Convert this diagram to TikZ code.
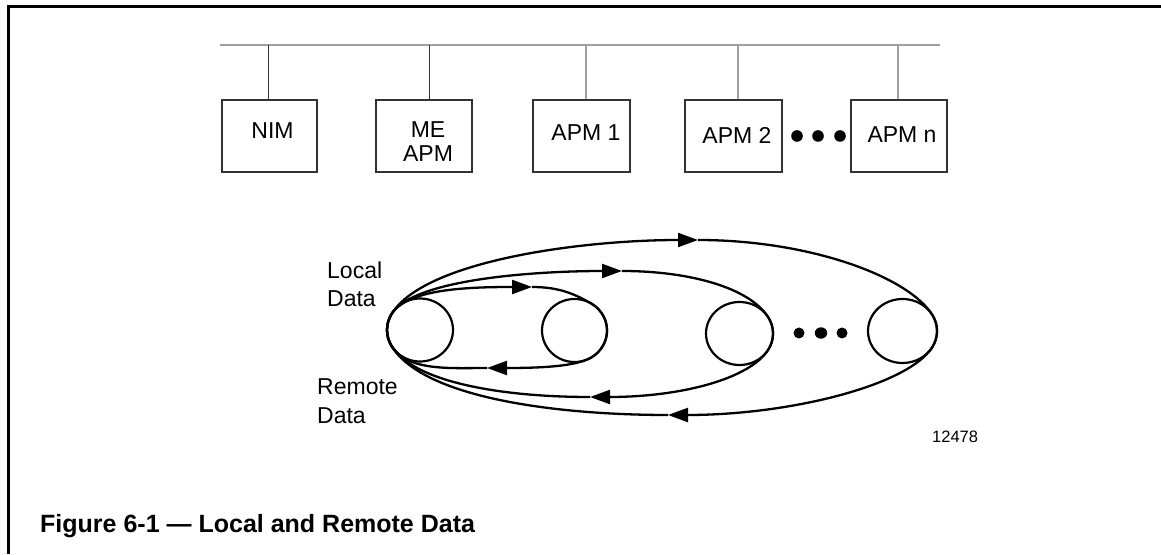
\documentclass[tikz,border=0pt]{standalone}
\usepackage{fontspec}
\setmainfont{Liberation Sans}
\usetikzlibrary{arrows.meta,calc}
\definecolor{busgray}{HTML}{A0A0A0}
\definecolor{boxline}{HTML}{333333}
\begin{document}
\begin{tikzpicture}[x=1pt,y=1pt,
  unitbox/.style={draw=boxline, line width=1.1pt, minimum width=#1,
    minimum height=72pt, inner sep=0pt},
  lbl/.style={font=\fontsize{23}{24}\selectfont, inner sep=0pt, align=center},
  sidelbl/.style={font=\fontsize{23}{28.5}\selectfont, inner sep=0pt,
    align=left, anchor=north west},
  busline/.style={draw=busgray, line width=2pt},
  darkdrop/.style={draw=boxline, line width=1pt},
  graydrop/.style={draw=busgray, line width=1.5pt},
  ringline/.style={line width=2.2pt},
  loopline/.style={line width=2.3pt},
  fwd/.style={-{Triangle[length=20pt,width=14pt]}},
  dot/.style={fill=black}
]
\useasboundingbox (0,0) rectangle (1161,554);

% page frame
\draw[line width=3pt, line join=miter] (1161,547.5) -- (8,547.5) -- (8,0);

% network bus and the modules hanging from it
\coordinate (bl) at (220,509);
\coordinate (br) at (940,509);
\draw[busline] (bl) -- (br);

\node[unitbox=95] (nim)  at (269.5,418) {};
\node[unitbox=96] (me)   at (424,418)   {};
\node[unitbox=97] (apm1) at (581.5,418) {};
\node[unitbox=97] (apm2) at (733.5,418) {};
\node[unitbox=96] (apmn) at (899,418)   {};

\node[lbl] (nimtxt)  at (272.5,423.5) {NIM};
\node[lbl] (metxt)   at (428,412)     {ME\\APM};
\node[lbl] (apm1txt) at (586,421)     {APM 1};
\node[lbl] (apm2txt) at (737,419)     {APM 2};
\node[lbl] (apmntxt) at (902,419)     {APM n};

\coordinate (d1) at (268,509);
\coordinate (d2) at (429,509);
\coordinate (d3) at (586,509);
\coordinate (d4) at (738,509);
\coordinate (d5) at (898,509);
\draw[darkdrop] (d1) -- (d1 |- nim.north);
\draw[darkdrop] (d2) -- (d2 |- me.north);
\draw[graydrop] (d3) -- (d3 |- apm1.north);
\draw[graydrop] (d4) -- (d4 |- apm2.north);
\draw[graydrop] (d5) -- (d5 |- apmn.north);

\fill[dot] (797,418) circle (5.8);
\fill[dot] (818,418) circle (5.8);
\fill[dot] (840,418) circle (5.8);

% data paths between the modules
\coordinate (c1) at (420,224);
\coordinate (c2) at (574.5,223.5);
\coordinate (c3) at (739.5,220.5);
\coordinate (c4) at (902.5,223);
\draw[ringline] (c1) ellipse [x radius=33, y radius=31.5];
\draw[ringline] (c2) ellipse [x radius=32.5, y radius=31.5];
\draw[ringline] (c3) ellipse [x radius=33.5, y radius=31.5];
\draw[ringline] (c4) ellipse [x radius=34.5, y radius=32];

\coordinate (p0) at ($(c1)+(150:33 and 31.5)$);
\coordinate (p1) at ($(c1)+(210:33 and 31.5)$);

\fill[dot] (799,221) circle (5.5);
\fill[dot] (821,221) ellipse [x radius=6.2, y radius=5.7];
\fill[dot] (842,221) circle (5.5);

% inner loop
\coordinate (t1) at (532,267);
\coordinate (b1) at (487,186);
\draw[loopline, fwd] (p1) arc[start angle=210, end angle=150, x radius=33, y radius=31.5]
  .. controls +(59:30) and +(-62,0) .. (t1);
\draw[loopline, fwd] (t1) .. controls +(28,0) and +(150.7:18) .. ($(c2)+(60:32.5 and 31.5)$)
  arc[start angle=60, end angle=-60, x radius=32.5, y radius=31.5]
  .. controls +(209.3:18) and +(53,0) .. (b1);
\draw[loopline] (b1) .. controls +(-37,0) and +(-59:30) .. (p1);

% middle loop
\coordinate (t2) at (622,283);
\coordinate (b2) at (590,157);
\draw[loopline, fwd] (p1) arc[start angle=210, end angle=150, x radius=33, y radius=31.5]
  .. controls +(59:42) and +(-82,0) .. (t2);
\draw[loopline, fwd] (t2) .. controls +(68,0) and +(121.55:35) .. ($(c3)+(30:33.5 and 31.5)$)
  arc[start angle=30, end angle=-30, x radius=33.5, y radius=31.5]
  .. controls +(238.45:35) and +(90,0) .. (b2);
\draw[loopline] (b2) .. controls +(-90,0) and +(-59:42) .. (p1);

% outer loop
\coordinate (t3) at (698,314);
\coordinate (b3) at (668,139);
\draw[loopline, fwd] (p1) arc[start angle=210, end angle=150, x radius=33, y radius=31.5]
  .. controls +(59:62) and +(-118,0) .. (t3);
\draw[loopline, fwd] (t3) .. controls +(112,0) and +(121.9:45) .. ($(c4)+(30:34.5 and 32)$)
  arc[start angle=30, end angle=-30, x radius=34.5, y radius=32]
  .. controls +(238.1:45) and +(122,0) .. (b3);
\draw[loopline] (b3) .. controls +(-108,0) and +(-59:62) .. (p1);

\node[sidelbl] (loc) at (327,292.5) {Local\\Data};
\node[sidelbl] (rem) at (317,175.5) {Remote\\Data};

\node[font=\fontsize{16.5}{18}\selectfont, inner sep=0pt, anchor=base west] (num) at (932,111) {12478};

\node[font=\bfseries\fontsize{25}{28}\selectfont, inner sep=0pt, anchor=base west] (cap) at (40,22)
  {Figure 6-1 — Local and Remote Data};
\end{tikzpicture}
\end{document}
